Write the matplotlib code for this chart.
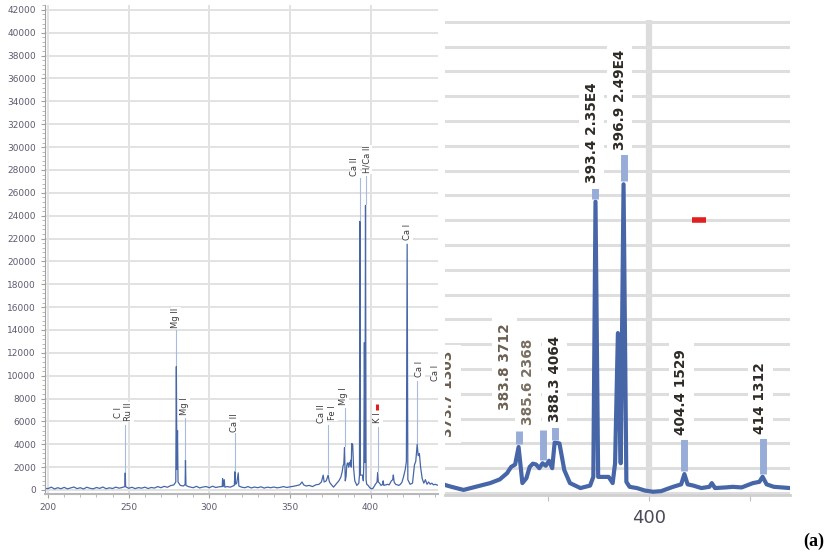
import numpy as np
import matplotlib.pyplot as plt
from matplotlib.ticker import MultipleLocator

# emission spectrum, wavelength in nm and counts
wavelength = [198.0, 200, 202, 204, 206, 208, 210, 212, 214, 216, 218, 220, 222, 224, 226, 228,
              230, 232, 234, 236, 238, 240, 242, 244, 246, 247.6, 247.86, 248.1, 250, 252, 254,
              256, 258, 260, 262, 264, 266, 268, 270, 272, 274, 276, 278, 279.2, 279.55, 279.9,
              280.27, 280.6, 282, 284, 285.0, 285.21, 285.5, 287, 290, 292, 294, 296, 298, 300,
              302, 304, 306, 308.0, 308.22, 308.6, 309.27, 309.6, 311, 313, 315.5, 315.89, 316.3,
              317.0, 317.93, 318.3, 320, 322, 324, 326, 328, 330, 332, 334, 336, 338, 340, 342,
              344, 346, 348, 350, 352, 354, 356, 357.5, 358.5, 360, 362, 364, 366, 368, 369.5,
              370.6, 371.2, 372.5, 373.7, 374.3, 374.7, 375.5, 377.0, 378.5, 380.3, 381.5, 382.4,
              382.9, 383.4, 383.83, 384.3, 384.8, 385.2, 385.6, 386.0, 386.4, 386.8, 387.2, 387.6,
              388.0, 388.3, 388.9, 389.5, 390.2, 391.5, 392.7, 393.1, 393.37, 393.7, 394.4, 395.0,
              395.5, 395.8, 396.15, 396.5, 396.85, 397.2, 397.6, 398.5, 399.5, 400.5, 401.5, 403.0,
              404.0, 404.4, 404.8, 405.5, 406.5, 407.5, 407.8, 408.2, 409.5, 410.4, 411.5, 412.9,
              413.7, 414.1, 414.6, 415.5, 416.5, 417.5, 418.5, 419.5, 420.5, 421.5, 422.2, 422.67,
              423.1, 424.5, 426, 427.2, 428.0, 428.9, 429.5, 430.25, 431.0, 432.0, 433.0, 434.0,
              435.0, 436.0, 437.0, 438.0, 439.0, 440.0, 442.0]
intensity = [150, 120, 250, 90, 200, 110, 230, 100, 180, 260, 120, 200, 90, 240, 150, 100,
             220, 140, 260, 110, 190, 130, 250, 160, 220, 300, 1500, 280, 150, 240, 120,
             210, 160, 250, 130, 220, 170, 300, 200, 320, 240, 380, 450, 700, 10800, 1800,
             5200, 700, 400, 350, 500, 2600, 400, 300, 200, 320, 180, 260, 300, 200,
             330, 220, 280, 300, 1000, 300, 900, 250, 300, 250, 400, 1600, 500,
             600, 1500, 350, 250, 200, 300, 180, 260, 200, 280, 170, 250, 200, 260, 190,
             230, 300, 220, 280, 320, 380, 450, 700, 450, 350, 400, 300, 450, 500, 700,
             1300, 700, 800, 1303, 800, 650, 500, 250, 500, 800, 1100, 1600,
             2100, 2300, 3712, 800, 1200, 2100, 2368, 2300, 2000, 2400, 2200, 2600,
             2000, 4064, 4000, 1850, 800, 400, 600, 1300, 23500, 1300, 1300, 1300,
             800, 2400, 12900, 2400, 24900, 900, 500, 400, 200, 100, 150, 500,
             700, 1529, 700, 600, 400, 500, 800, 400, 450, 500, 450, 800,
             900, 1312, 700, 500, 450, 400, 500, 700, 1200, 1800, 2500, 21500,
             900, 500, 600, 2200, 2500, 4000, 3000, 3200, 2000, 1000, 600, 900,
             500, 700, 500, 600, 450, 500, 400]

# line identifications on the full-range view
id_nm = [243.4, 249.9, 279.3, 284.6, 315.9, 369.8, 376.6, 383.5, 390.3, 397.7, 404.5, 423.1, 430.6, 440.5]
id_base = [6300, 6000, 14200, 6600, 5100, 5900, 6100, 7400, 27500, 27700, 5900, 21900, 9900, 9500]
id_text = ['C I', 'Ru II', 'Mg II', 'Mg I', 'Ca II', 'Ca II', 'Fe I', 'Mg I', 'Ca II', 'H/Ca II',
           'K I', 'Ca I', 'Ca I', 'Ca I']

# drop lines from the peak tops up to their IDs
drop_nm = [247.86, 279.55, 285.21, 315.89, 373.7, 383.83, 393.37, 396.85, 404.4, 428.9]
drop_top = [5700, 14000, 6300, 5000, 5700, 7200, 27300, 27500, 5500, 9500]

# peak callouts on the zoomed view
call_nm = [375.1, 382.1, 385.0, 388.3, 392.9, 396.4, 404.0, 413.8]
call_base = [4500, 6700, 5500, 5700, 25000, 27700, 4700, 4800]
call_text = ['373.7 1303', '383.8 3712', '385.6 2368', '388.3 4064', '393.4 2.35E4',
             '396.9 2.49E4', '404.4 1529', '414 1312']
call_color = ['#6a5e50', '#6a5e50', '#7a6e60', '#2e2a26', '#2e2a26', '#2e2a26', '#2e2a26', '#2e2a26']
call_peak = [383.83, 386.8, 388.3, 393.37, 396.85, 404.4, 414.1]
call_top = [5000, 5100, 5500, 24800, 27400, 4400, 4500]

blue = '#4666a8'
pale = '#a9badf'
tick_c = '#5e5a70'

fig = plt.figure(figsize=(8.38, 5.56), dpi=100)

# full range view
ax = fig.add_axes([45/838, 62/556, 393/838, 489/556])
ax.set_xlim(198.1, 441.8)
ax.set_ylim(-350, 42430)
ax.xaxis.set_major_locator(MultipleLocator(50))
ax.xaxis.set_minor_locator(MultipleLocator(10))
ax.yaxis.set_major_locator(MultipleLocator(2000))
ax.yaxis.set_minor_locator(MultipleLocator(400))
ax.grid(True, which='major', color='#e2e2e2', lw=1.4)
ax.set_axisbelow(True)
for s in ['top', 'right']:
    ax.spines[s].set_visible(False)
ax.spines['left'].set_color('#a0a0a0')
ax.spines['bottom'].set_color('#b8b8b8')
ax.spines['bottom'].set_linewidth(1.5)
ax.tick_params(labelsize=6.5, labelcolor=tick_c, color='#a0a0a0', length=3, width=0.8)
ax.tick_params(which='minor', length=2, color='#b0b0b0', width=0.6)
ax.plot(wavelength, intensity, color=blue, lw=0.9)

for nm, top in zip(drop_nm, drop_top):
    y0 = np.interp(nm, wavelength, intensity)
    ax.plot([nm, nm], [y0 + 150, top], color=pale, lw=0.8)
for nm, base, txt in zip(id_nm, id_base, id_text):
    ax.text(nm, base, txt, rotation=90, ha='center', va='bottom', fontsize=6,
            color='#3a3a3a', bbox=dict(fc='white', ec='none', pad=0.6), clip_on=True)
ax.plot([404.0], [7300], marker='|', color='#e02020', ms=5, mew=2.2)

# zoomed view around the Ca II H and K lines
bx = fig.add_axes([445/838, 61/556, 345/838, 475/556])
bx.set_xlim(374.7, 417.5)
bx.set_ylim(-160, 38150)
bx.yaxis.set_major_locator(MultipleLocator(2000))
bx.grid(axis='y', color='#dedede', lw=2.2)
bx.set_axisbelow(True)
bx.axvline(400, color='#dcdcdc', lw=4.5, zorder=0.5)
for s in ['top', 'right', 'left']:
    bx.spines[s].set_visible(False)
bx.spines['bottom'].set_color('#d0d0d0')
bx.spines['bottom'].set_linewidth(2)
bx.tick_params(axis='y', left=False, labelleft=False)
bx.set_xticks([387.5, 400, 412.5])
bx.set_xticklabels(['', '400', ''])
bx.tick_params(axis='x', length=4, color='#c0c0c0', labelsize=13, labelcolor='#4a4a5a', pad=6)
bx.plot(wavelength, intensity, color=blue, lw=3.0)

for nm, top in zip(call_peak, call_top):
    y0 = np.interp(nm, wavelength, intensity)
    bx.plot([nm, nm], [y0 + 250, top], color='#98acd8', lw=5, solid_capstyle='butt')
for nm, base, txt, c in zip(call_nm, call_base, call_text, call_color):
    bx.text(nm, base, txt, rotation=90, ha='center', va='bottom', fontsize=9.8,
            fontweight='bold', color=c, bbox=dict(fc='white', ec='none', pad=4), clip_on=True)
bx.plot([406.2], [22000], marker='_', color='#e02020', ms=10, mew=4)

fig.text(803/838, 1 - 541/556, '(a)', fontsize=13, fontweight='bold',
         family='Liberation Serif', va='center')

fig.savefig('out.png', dpi=100)
